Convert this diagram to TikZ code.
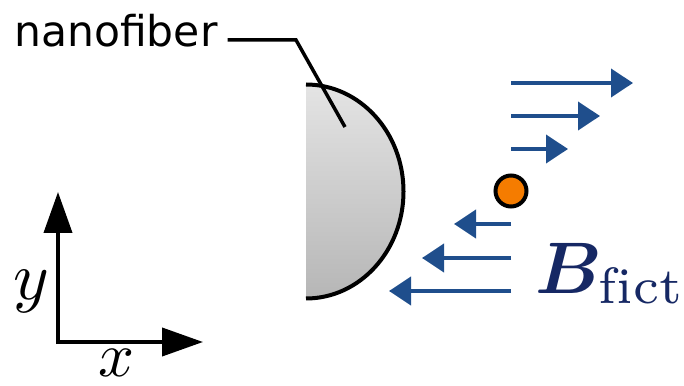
\documentclass[tikz,border=0pt]{standalone}
\usepackage{amsmath,bm}
\usepackage{fontspec}
\newfontfamily\nanofont{DejaVu Sans}
\usetikzlibrary{arrows.meta}
\definecolor{arrowblue}{RGB}{31,78,140}
\definecolor{navy}{RGB}{22,40,100}
\definecolor{dotorange}{RGB}{245,124,0}
\definecolor{fibtop}{RGB}{228,228,228}
\definecolor{fibbot}{RGB}{182,182,182}
\tikzset{
  axis/.style={line width=4pt,-{Triangle[length=41pt,width=28pt]}},
  fieldarrow/.style={line width=4pt,color=arrowblue,-{Triangle[length=22pt,width=28pt]}},
  leader/.style={line width=3.5pt},
}
\begin{document}
\begin{tikzpicture}[x=1pt,y=1pt]
\useasboundingbox (0,0) rectangle (684,385);
% nanofiber half disk
\shade[top color=fibtop,bottom color=fibbot]
  (306,300.5) arc[start angle=90,end angle=-90,x radius=97.5,y radius=107] -- cycle;
\draw[line width=4pt] (306,300.5) arc[start angle=90,end angle=-90,x radius=97.5,y radius=107];
% label
\node[anchor=base west,inner sep=0pt,font=\nanofont\fontsize{42.5}{48}\selectfont] (lbl) at (14,338) {nanofiber};
\coordinate (k1) at (296,345);
\coordinate (k2) at (345,258);
\draw[leader] ([xshift=10pt]lbl.east |- k1) -- (k1) -- (k2);
% axes
\coordinate (o) at (58,43);
\coordinate (ytip) at (58,193);
\coordinate (xtip) at (203,43);
\draw[axis] ([yshift=-2pt]o) -- (ytip);
\draw[axis] ([xshift=-2pt]o) -- (xtip);
\node[anchor=base,inner sep=0pt,scale=6.8] (ylab) at (31,86) {$y$};
\node[anchor=base,inner sep=0pt,scale=6.3] (xlab) at (117,9) {$x$};
% field arrows
\coordinate (r1s) at (511,302); \coordinate (r1e) at (633,302);
\coordinate (r2s) at (511,269); \coordinate (r2e) at (600,269);
\coordinate (r3s) at (511,236); \coordinate (r3e) at (568,236);
\coordinate (l1s) at (511,161); \coordinate (l1e) at (454,161);
\coordinate (l2s) at (511,127); \coordinate (l2e) at (422,127);
\coordinate (l3s) at (511,94);  \coordinate (l3e) at (389,94);
\draw[fieldarrow] (r1s) -- (r1e);
\draw[fieldarrow] (r2s) -- (r2e);
\draw[fieldarrow] (r3s) -- (r3e);
\draw[fieldarrow] (l1s) -- (l1e);
\draw[fieldarrow] (l2s) -- (l2e);
\draw[fieldarrow] (l3s) -- (l3e);
% atom
\node[circle,draw=black,line width=4pt,fill=dotorange,minimum size=31pt,inner sep=0pt] (atom) at (511,194) {};
% B label
\node[anchor=base west,inner sep=0pt,text=navy,scale=7.3] (blab) at (534,92) {$\boldsymbol{B}_{\mathrm{fict}}$};
\end{tikzpicture}
\end{document}
